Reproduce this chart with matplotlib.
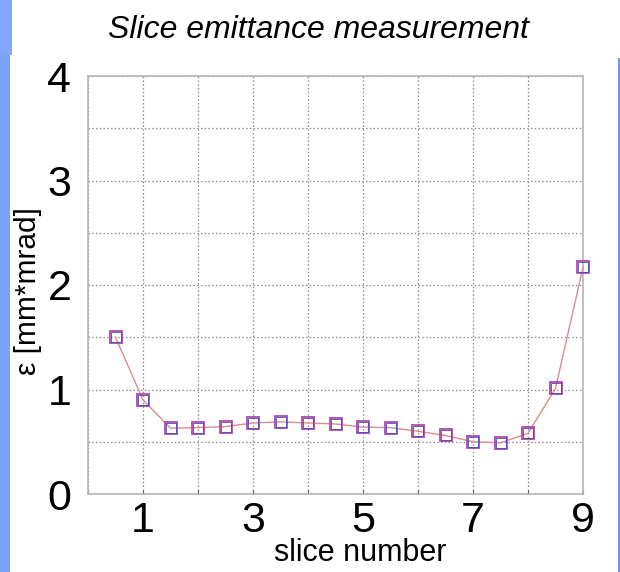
import matplotlib
matplotlib.use("Agg")
import matplotlib.pyplot as plt
from matplotlib.patches import Rectangle

# slice emittance data
slice_pos = [0.5, 1.0, 1.5, 2.0, 2.5, 3.0, 3.5, 4.0, 4.5, 5.0, 5.5, 6.0, 6.5, 7.0, 7.5, 8.0, 8.5, 9.0]
emittance = [1.50, 0.90, 0.63, 0.635, 0.645, 0.68, 0.69, 0.68, 0.67, 0.64, 0.635, 0.60, 0.56, 0.50, 0.49, 0.58, 1.01, 2.17]
x_ticks = [1, 3, 5, 7, 9]
y_ticks = [0, 1, 2, 3, 4]

plt.rcParams['font.family'] = ['Liberation Sans', 'DejaVu Sans']

fig = plt.figure(figsize=(6.2, 5.72), dpi=100)
fig.patch.set_facecolor('white')

# slide decoration: blue stripe on the left, thin blue rule on the right
fig.add_artist(Rectangle((0, 1 - 55 / 572), 12 / 620, 55 / 572, transform=fig.transFigure,
                         facecolor='#7fa6fb', edgecolor='none'))
fig.add_artist(Rectangle((0, 0), 10 / 620, 1 - 55 / 572, transform=fig.transFigure,
                         facecolor='#7aa2f5', edgecolor='none'))
fig.add_artist(Rectangle((618 / 620, 0), 2 / 620, 1 - 58 / 572, transform=fig.transFigure,
                         facecolor='#6f93e8', edgecolor='none'))

ax = fig.add_axes([88 / 620, 1 - 494 / 572, (583 - 88) / 620, (494 - 76) / 572])

ax.plot(slice_pos, emittance, color='#d98c92', linewidth=1.0, zorder=3, clip_on=False)
ax.plot(slice_pos, emittance, linestyle='none', marker='s', markersize=8.5,
        markerfacecolor='none', markeredgecolor='#b04aa8', markeredgewidth=1.3,
        zorder=4, clip_on=False)
ax.plot(slice_pos, emittance, linestyle='none', marker='s', markersize=6.5,
        markerfacecolor='none', markeredgecolor='#4a4ab8', markeredgewidth=0.6,
        zorder=5, clip_on=False)

ax.set_xlim(0, 9)
ax.set_ylim(0, 4)
ax.set_xticks(range(0, 10))
ax.set_xticklabels([str(t) if t in x_ticks else '' for t in range(0, 10)])
ax.set_yticks([v / 2 for v in range(0, 9)])
ax.set_yticklabels([str(int(v / 2)) if (v % 2 == 0) else '' for v in range(0, 9)])

ax.grid(True, linestyle=(0, (1.2, 1.8)), color='#8a8a8a', linewidth=0.9)
ax.set_axisbelow(True)
for s in ax.spines.values():
    s.set_color('#b5b5b5')
    s.set_linewidth(1.2)
ax.tick_params(axis='both', direction='in', length=3, width=0.8, color='#555555',
               labelsize=31, pad=5)
ax.tick_params(axis='y', length=0, pad=12)

ax.set_xlabel('slice number', fontsize=22)
ax.xaxis.set_label_coords(0.55, -(553 - 494) / (494 - 76))
ax.xaxis.label.set_va('center')
ax.set_ylabel('ε [mm*mrad]', fontsize=21.5)
ax.yaxis.set_label_coords(-(88 - 28) / (583 - 88), (494 - 291) / (494 - 76))
ax.yaxis.label.set_va('center')

fig.text(318 / 620, 1 - 30 / 572, 'Slice emittance measurement', ha='center', va='center',
         fontsize=23, style='italic')

fig.savefig('out.png', dpi=100, facecolor='white')
